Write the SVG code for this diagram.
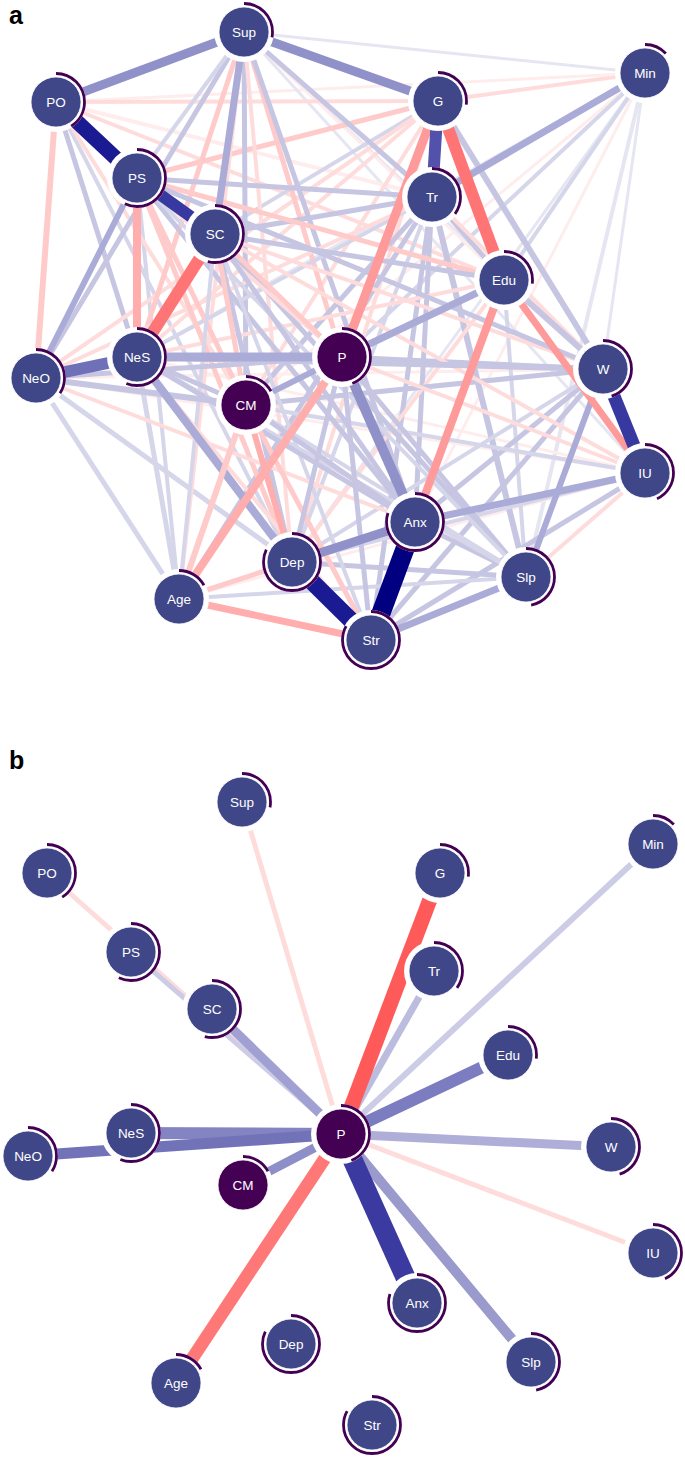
<svg xmlns="http://www.w3.org/2000/svg" width="685" height="1458" viewBox="0 0 685 1458">
<style>
.e line{stroke-linecap:butt}
.b1{stroke:#e6e6f3}.b2{stroke:#d6d6eb}.b3{stroke:#c6c6e3}.b4{stroke:#ababd7}.b5{stroke:#9191c9}.b6{stroke:#7070b9}.b7{stroke:#5252ac}.b8{stroke:#3838a1}.b9{stroke:#1a1a92}.b10{stroke:#000080}
.r1{stroke:#ffeded}.r2{stroke:#ffdcdc}.r3{stroke:#ffcaca}.r4{stroke:#ffadad}.r5{stroke:#ff9a9a}.r6{stroke:#ff7474}.r7{stroke:#ff5a5a}
.halo{fill:#fff}
.nf{fill:#404788;stroke:#fff;stroke-opacity:.75;stroke-width:1}
.np{fill:#440154;stroke:#fff;stroke-opacity:.75;stroke-width:1}
.arc{fill:none;stroke:#440154;stroke-width:2.8}
.lbl{font-family:"Liberation Sans",Arial,sans-serif;font-size:13.5px;fill:#fff;text-anchor:middle}
.pl{font-family:"Liberation Sans",Arial,sans-serif;font-size:25px;font-weight:bold;fill:#000}
.fSup{stroke-dasharray:50.1 300}.fPO{stroke-dasharray:73.4 300}.fPS{stroke-dasharray:102 300}.fSC{stroke-dasharray:96.7 300}
.fG{stroke-dasharray:48.3 300}.fMin{stroke-dasharray:23.3 300}.fTr{stroke-dasharray:62.7 300}.fEdu{stroke-dasharray:48.3 300}
.fNeO{stroke-dasharray:60.9 300}.fNeS{stroke-dasharray:100.3 300}.fP{stroke-dasharray:78.8 300}.fCM{stroke-dasharray:30.4 300}
.fW{stroke-dasharray:80.6 300}.fIU{stroke-dasharray:77 300}.fAnx{stroke-dasharray:143.3 300}.fDep{stroke-dasharray:146.8 300}
.fSlp{stroke-dasharray:84.2 300}.fAge{stroke-dasharray:30.4 300}.fStr{stroke-dasharray:148.6 300}
</style>
<rect width="685" height="1458" fill="#fff"/>
<text class="pl" x="9" y="24">a</text>
<text class="pl" x="9" y="769">b</text>

<g id="edges-a" class="e">
<line class="b1" stroke-width="3" x1="244" y1="32" x2="645" y2="73"/>
<line class="r1" stroke-width="3" x1="36" y1="378" x2="603" y2="369"/>
<line class="r1" stroke-width="3" x1="36" y1="378" x2="645" y2="473"/>
<line class="b1" stroke-width="3" x1="645" y1="73" x2="137" y2="357"/>
<line class="r1" stroke-width="3" x1="645" y1="73" x2="246" y2="405"/>
<line class="b1" stroke-width="4" x1="645" y1="73" x2="526" y2="577"/>
<line class="b1" stroke-width="3" x1="645" y1="73" x2="603" y2="369"/>
<line class="b1" stroke-width="3" x1="645" y1="73" x2="292" y2="562"/>
<line class="b2" stroke-width="4" x1="645" y1="73" x2="342" y2="357"/>
<line class="r1" stroke-width="3" x1="645" y1="73" x2="415" y2="522"/>
<line class="r2" stroke-width="4" x1="645" y1="73" x2="438" y2="101"/>
<line class="r1" stroke-width="3" x1="645" y1="73" x2="56" y2="102"/>
<line class="b2" stroke-width="4" x1="645" y1="73" x2="504" y2="280"/>
<line class="b1" stroke-width="3" x1="244" y1="32" x2="603" y2="369"/>
<line class="b1" stroke-width="3" x1="244" y1="32" x2="645" y2="473"/>
<line class="r1" stroke-width="3" x1="244" y1="32" x2="504" y2="280"/>
<line class="r1" stroke-width="3" x1="645" y1="473" x2="179" y2="599"/>
<line class="r1" stroke-width="3" x1="645" y1="473" x2="137" y2="357"/>
<line class="r2" stroke-width="4" x1="526" y1="577" x2="645" y2="473"/>
<line class="b2" stroke-width="5" x1="36" y1="378" x2="179" y2="599"/>
<line class="b2" stroke-width="5" x1="36" y1="378" x2="292" y2="562"/>
<line class="b2" stroke-width="5" x1="137" y1="357" x2="179" y2="599"/>
<line class="b2" stroke-width="4" x1="137" y1="178" x2="179" y2="599"/>
<line class="b3" stroke-width="5" x1="56" y1="102" x2="137" y2="357"/>
<line class="b2" stroke-width="4" x1="56" y1="102" x2="292" y2="562"/>
<line class="r2" stroke-width="4" x1="56" y1="102" x2="246" y2="405"/>
<line class="r1" stroke-width="4" x1="56" y1="102" x2="342" y2="357"/>
<line class="r1" stroke-width="4" x1="56" y1="102" x2="432" y2="197"/>
<line class="r2" stroke-width="4" x1="56" y1="102" x2="504" y2="280"/>
<line class="r2" stroke-width="4" x1="438" y1="101" x2="56" y2="102"/>
<line class="r3" stroke-width="5" x1="438" y1="101" x2="137" y2="178"/>
<line class="b2" stroke-width="4" x1="438" y1="101" x2="215" y2="234"/>
<line class="r2" stroke-width="4" x1="438" y1="101" x2="137" y2="357"/>
<line class="r2" stroke-width="4" x1="438" y1="101" x2="246" y2="405"/>
<line class="r2" stroke-width="4" x1="438" y1="101" x2="36" y2="378"/>
<line class="r2" stroke-width="4" x1="438" y1="101" x2="292" y2="562"/>
<line class="r3" stroke-width="5" x1="244" y1="32" x2="137" y2="357"/>
<line class="b3" stroke-width="5" x1="244" y1="32" x2="246" y2="405"/>
<line class="r2" stroke-width="4" x1="244" y1="32" x2="292" y2="562"/>
<line class="r3" stroke-width="5" x1="244" y1="32" x2="342" y2="357"/>
<line class="b3" stroke-width="5" x1="244" y1="32" x2="432" y2="197"/>
<line class="b3" stroke-width="5" x1="244" y1="32" x2="415" y2="522"/>
<line class="b3" stroke-width="5" x1="244" y1="32" x2="36" y2="378"/>
<line class="r2" stroke-width="4" x1="244" y1="32" x2="179" y2="599"/>
<line class="b2" stroke-width="4" x1="244" y1="32" x2="137" y2="178"/>
<line class="b3" stroke-width="5" x1="432" y1="197" x2="137" y2="178"/>
<line class="b3" stroke-width="5" x1="432" y1="197" x2="215" y2="234"/>
<line class="b2" stroke-width="4" x1="432" y1="197" x2="137" y2="357"/>
<line class="b3" stroke-width="5" x1="432" y1="197" x2="246" y2="405"/>
<line class="b3" stroke-width="5" x1="432" y1="197" x2="415" y2="522"/>
<line class="b3" stroke-width="6" x1="432" y1="197" x2="526" y2="577"/>
<line class="b3" stroke-width="5" x1="432" y1="197" x2="371" y2="640"/>
<line class="b2" stroke-width="4" x1="432" y1="197" x2="292" y2="562"/>
<line class="b3" stroke-width="5" x1="432" y1="197" x2="179" y2="599"/>
<line class="b3" stroke-width="5" x1="432" y1="197" x2="504" y2="280"/>
<line class="r2" stroke-width="4" x1="432" y1="197" x2="603" y2="369"/>
<line class="r2" stroke-width="4" x1="432" y1="197" x2="36" y2="378"/>
<line class="r3" stroke-width="5" x1="504" y1="280" x2="137" y2="178"/>
<line class="b3" stroke-width="5" x1="504" y1="280" x2="215" y2="234"/>
<line class="b3" stroke-width="6" x1="504" y1="280" x2="603" y2="369"/>
<line class="b2" stroke-width="4" x1="504" y1="280" x2="526" y2="577"/>
<line class="r2" stroke-width="4" x1="504" y1="280" x2="292" y2="562"/>
<line class="r2" stroke-width="4" x1="504" y1="280" x2="246" y2="405"/>
<line class="r2" stroke-width="4" x1="504" y1="280" x2="137" y2="357"/>
<line class="b3" stroke-width="5" x1="603" y1="369" x2="246" y2="405"/>
<line class="b3" stroke-width="5" x1="603" y1="369" x2="342" y2="357"/>
<line class="b3" stroke-width="5" x1="603" y1="369" x2="415" y2="522"/>
<line class="b2" stroke-width="4" x1="603" y1="369" x2="292" y2="562"/>
<line class="b3" stroke-width="5" x1="603" y1="369" x2="371" y2="640"/>
<line class="r2" stroke-width="4" x1="603" y1="369" x2="215" y2="234"/>
<line class="b3" stroke-width="5" x1="603" y1="369" x2="137" y2="178"/>
<line class="b2" stroke-width="4" x1="645" y1="473" x2="246" y2="405"/>
<line class="r2" stroke-width="4" x1="645" y1="473" x2="342" y2="357"/>
<line class="b3" stroke-width="5" x1="645" y1="473" x2="371" y2="640"/>
<line class="b2" stroke-width="4" x1="645" y1="473" x2="292" y2="562"/>
<line class="r2" stroke-width="4" x1="645" y1="473" x2="215" y2="234"/>
<line class="b3" stroke-width="5" x1="526" y1="577" x2="415" y2="522"/>
<line class="b3" stroke-width="5" x1="526" y1="577" x2="342" y2="357"/>
<line class="b3" stroke-width="5" x1="526" y1="577" x2="215" y2="234"/>
<line class="b2" stroke-width="4" x1="526" y1="577" x2="179" y2="599"/>
<line class="b3" stroke-width="5" x1="526" y1="577" x2="292" y2="562"/>
<line class="b2" stroke-width="4" x1="526" y1="577" x2="137" y2="357"/>
<line class="b2" stroke-width="4" x1="526" y1="577" x2="246" y2="405"/>
<line class="r3" stroke-width="5" x1="137" y1="178" x2="246" y2="405"/>
<line class="r3" stroke-width="5" x1="137" y1="178" x2="292" y2="562"/>
<line class="r2" stroke-width="4" x1="137" y1="178" x2="342" y2="357"/>
<line class="b3" stroke-width="5" x1="137" y1="178" x2="415" y2="522"/>
<line class="b2" stroke-width="4" x1="137" y1="178" x2="526" y2="577"/>
<line class="b3" stroke-width="5" x1="215" y1="234" x2="292" y2="562"/>
<line class="b2" stroke-width="4" x1="215" y1="234" x2="179" y2="599"/>
<line class="r3" stroke-width="5" x1="215" y1="234" x2="246" y2="405"/>
<line class="b3" stroke-width="5" x1="215" y1="234" x2="415" y2="522"/>
<line class="r3" stroke-width="5" x1="215" y1="234" x2="342" y2="357"/>
<line class="b2" stroke-width="4" x1="215" y1="234" x2="371" y2="640"/>
<line class="b3" stroke-width="5" x1="137" y1="357" x2="246" y2="405"/>
<line class="b3" stroke-width="5" x1="137" y1="357" x2="415" y2="522"/>
<line class="r2" stroke-width="4" x1="137" y1="357" x2="371" y2="640"/>
<line class="b3" stroke-width="5" x1="36" y1="378" x2="342" y2="357"/>
<line class="r2" stroke-width="4" x1="36" y1="378" x2="415" y2="522"/>
<line class="b3" stroke-width="6" x1="36" y1="378" x2="246" y2="405"/>
<line class="r4" stroke-width="6" x1="246" y1="405" x2="292" y2="562"/>
<line class="r3" stroke-width="5" x1="246" y1="405" x2="371" y2="640"/>
<line class="b3" stroke-width="5" x1="246" y1="405" x2="415" y2="522"/>
<line class="b4" stroke-width="6" x1="246" y1="405" x2="342" y2="357"/>
<line class="b3" stroke-width="5" x1="342" y1="357" x2="292" y2="562"/>
<line class="b3" stroke-width="5" x1="342" y1="357" x2="371" y2="640"/>
<line class="r2" stroke-width="4" x1="415" y1="522" x2="179" y2="599"/>
<line class="r3" stroke-width="5" x1="179" y1="599" x2="292" y2="562"/>
<line class="b3" stroke-width="6" x1="137" y1="357" x2="603" y2="369"/>
<line class="b3" stroke-width="6" x1="438" y1="101" x2="603" y2="369"/>
<line class="b4" stroke-width="7" x1="342" y1="357" x2="504" y2="280"/>
<line class="b4" stroke-width="7" x1="645" y1="73" x2="432" y2="197"/>
<line class="b4" stroke-width="7" x1="371" y1="640" x2="526" y2="577"/>
<line class="b4" stroke-width="6" x1="603" y1="369" x2="526" y2="577"/>
<line class="b4" stroke-width="6" x1="137" y1="178" x2="36" y2="378"/>
<line class="b4" stroke-width="7" x1="415" y1="522" x2="645" y2="473"/>
<line class="b4" stroke-width="7" x1="244" y1="32" x2="215" y2="234"/>
<line class="b4" stroke-width="8" x1="137" y1="357" x2="292" y2="562"/>
<line class="r3" stroke-width="6" x1="246" y1="405" x2="179" y2="599"/>
<line class="r3" stroke-width="6" x1="56" y1="102" x2="36" y2="378"/>
<line class="r4" stroke-width="7" x1="179" y1="599" x2="371" y2="640"/>
<line class="r4" stroke-width="8" x1="137" y1="178" x2="137" y2="357"/>
<line class="r4" stroke-width="8" x1="342" y1="357" x2="179" y2="599"/>
<line class="r5" stroke-width="7" x1="504" y1="280" x2="645" y2="473"/>
<line class="r5" stroke-width="8" x1="504" y1="280" x2="415" y2="522"/>
<line class="r5" stroke-width="9" x1="438" y1="101" x2="342" y2="357"/>
<line class="b5" stroke-width="9" x1="415" y1="522" x2="292" y2="562"/>
<line class="b5" stroke-width="10" x1="342" y1="357" x2="415" y2="522"/>
<line class="b5" stroke-width="9" x1="244" y1="32" x2="56" y2="102"/>
<line class="b5" stroke-width="9" x1="244" y1="32" x2="438" y2="101"/>
<line class="b4" stroke-width="9" x1="137" y1="357" x2="342" y2="357"/>
<line class="r6" stroke-width="12" x1="438" y1="101" x2="504" y2="280"/>
<line class="r6" stroke-width="12" x1="215" y1="234" x2="137" y2="357"/>
<line class="b6" stroke-width="12" x1="36" y1="378" x2="137" y2="357"/>
<line class="b7" stroke-width="12" x1="438" y1="101" x2="432" y2="197"/>
<line class="b8" stroke-width="12" x1="137" y1="178" x2="215" y2="234"/>
<line class="b8" stroke-width="13" x1="603" y1="369" x2="645" y2="473"/>
<line class="b9" stroke-width="15" x1="56" y1="102" x2="137" y2="178"/>
<line class="b9" stroke-width="17" x1="292" y1="562" x2="371" y2="640"/>
<line class="b10" stroke-width="19" x1="415" y1="522" x2="371" y2="640"/>
</g>

<g id="nodes-a">
<g id="a-Sup" transform="translate(244,32)"><circle class="halo" r="30"/><circle class="nf" r="25"/><circle class="arc fSup" r="28.5" transform="rotate(-90)"/><text class="lbl" y="4.8">Sup</text></g>
<g id="a-PO" transform="translate(56,102)"><circle class="halo" r="30"/><circle class="nf" r="25"/><circle class="arc fPO" r="28.5" transform="rotate(-90)"/><text class="lbl" y="4.8">PO</text></g>
<g id="a-PS" transform="translate(137,178)"><circle class="halo" r="30"/><circle class="nf" r="25"/><circle class="arc fPS" r="28.5" transform="rotate(-90)"/><text class="lbl" y="4.8">PS</text></g>
<g id="a-SC" transform="translate(215,234)"><circle class="halo" r="30"/><circle class="nf" r="25"/><circle class="arc fSC" r="28.5" transform="rotate(-90)"/><text class="lbl" y="4.8">SC</text></g>
<g id="a-G" transform="translate(438,101)"><circle class="halo" r="30"/><circle class="nf" r="25"/><circle class="arc fG" r="28.5" transform="rotate(-90)"/><text class="lbl" y="4.8">G</text></g>
<g id="a-Min" transform="translate(645,73)"><circle class="halo" r="30"/><circle class="nf" r="25"/><circle class="arc fMin" r="28.5" transform="rotate(-90)"/><text class="lbl" y="4.8">Min</text></g>
<g id="a-Tr" transform="translate(432,197)"><circle class="halo" r="30"/><circle class="nf" r="25"/><circle class="arc fTr" r="28.5" transform="rotate(-90)"/><text class="lbl" y="4.8">Tr</text></g>
<g id="a-Edu" transform="translate(504,280)"><circle class="halo" r="30"/><circle class="nf" r="25"/><circle class="arc fEdu" r="28.5" transform="rotate(-90)"/><text class="lbl" y="4.8">Edu</text></g>
<g id="a-NeO" transform="translate(36,378)"><circle class="halo" r="30"/><circle class="nf" r="25"/><circle class="arc fNeO" r="28.5" transform="rotate(-90)"/><text class="lbl" y="4.8">NeO</text></g>
<g id="a-NeS" transform="translate(137,357)"><circle class="halo" r="30"/><circle class="nf" r="25"/><circle class="arc fNeS" r="28.5" transform="rotate(-90)"/><text class="lbl" y="4.8">NeS</text></g>
<g id="a-P" transform="translate(342,357)"><circle class="halo" r="30"/><circle class="np" r="25"/><circle class="arc fP" r="28.5" transform="rotate(-90)"/><text class="lbl" y="4.8">P</text></g>
<g id="a-CM" transform="translate(246,405)"><circle class="halo" r="30"/><circle class="np" r="25"/><circle class="arc fCM" r="28.5" transform="rotate(-90)"/><text class="lbl" y="4.8">CM</text></g>
<g id="a-W" transform="translate(603,369)"><circle class="halo" r="30"/><circle class="nf" r="25"/><circle class="arc fW" r="28.5" transform="rotate(-90)"/><text class="lbl" y="4.8">W</text></g>
<g id="a-IU" transform="translate(645,473)"><circle class="halo" r="30"/><circle class="nf" r="25"/><circle class="arc fIU" r="28.5" transform="rotate(-90)"/><text class="lbl" y="4.8">IU</text></g>
<g id="a-Anx" transform="translate(415,522)"><circle class="halo" r="30"/><circle class="nf" r="25"/><circle class="arc fAnx" r="28.5" transform="rotate(-90)"/><text class="lbl" y="4.8">Anx</text></g>
<g id="a-Dep" transform="translate(292,562)"><circle class="halo" r="30"/><circle class="nf" r="25"/><circle class="arc fDep" r="28.5" transform="rotate(-90)"/><text class="lbl" y="4.8">Dep</text></g>
<g id="a-Slp" transform="translate(526,577)"><circle class="halo" r="30"/><circle class="nf" r="25"/><circle class="arc fSlp" r="28.5" transform="rotate(-90)"/><text class="lbl" y="4.8">Slp</text></g>
<g id="a-Age" transform="translate(179,599)"><circle class="halo" r="30"/><circle class="nf" r="25"/><circle class="arc fAge" r="28.5" transform="rotate(-90)"/><text class="lbl" y="4.8">Age</text></g>
<g id="a-Str" transform="translate(371,640)"><circle class="halo" r="30"/><circle class="nf" r="25"/><circle class="arc fStr" r="28.5" transform="rotate(-90)"/><text class="lbl" y="4.8">Str</text></g>
</g>

<g id="edges-b" class="e">
<line class="r2" stroke-width="5" x1="341" y1="1134" x2="242" y2="802"/>
<line class="r2" stroke-width="5" x1="341" y1="1134" x2="47" y2="873"/>
<line stroke="#ccccE6" stroke-width="5" x1="341" y1="1134" x2="131" y2="952"/>
<line class="r2" stroke-width="5" x1="341" y1="1134" x2="653" y2="1253"/>
<line stroke="#ccccE6" stroke-width="6" x1="341" y1="1134" x2="653" y2="844"/>
<line stroke="#bcbcdf" stroke-width="7" x1="341" y1="1134" x2="434" y2="971"/>
<line stroke="#aeaed8" stroke-width="9" x1="341" y1="1134" x2="611" y2="1147"/>
<line stroke="#a0a0d2" stroke-width="9" x1="341" y1="1134" x2="212" y2="1009"/>
<line stroke="#9a9acc" stroke-width="10" x1="341" y1="1134" x2="531" y2="1362"/>
<line stroke="#8e8ec8" stroke-width="9" x1="341" y1="1134" x2="243" y2="1185"/>
<line stroke="#8484c2" stroke-width="12" x1="341" y1="1134" x2="131" y2="1133"/>
<line stroke="#7272b9" stroke-width="11" x1="341" y1="1134" x2="28" y2="1156"/>
<line stroke="#7c7cc0" stroke-width="12" x1="341" y1="1134" x2="508" y2="1055"/>
<line stroke="#ff7878" stroke-width="13" x1="341" y1="1134" x2="176" y2="1383"/>
<line class="r7" stroke-width="15" x1="341" y1="1134" x2="440" y2="873"/>
<line stroke="#3a3aa0" stroke-width="20" x1="341" y1="1134" x2="417" y2="1303"/>
</g>

<g id="nodes-b">
<g id="b-Sup" transform="translate(242,802)"><circle class="halo" r="30"/><circle class="nf" r="25"/><circle class="arc fSup" r="28.5" transform="rotate(-90)"/><text class="lbl" y="4.8">Sup</text></g>
<g id="b-PO" transform="translate(47,873)"><circle class="halo" r="30"/><circle class="nf" r="25"/><circle class="arc fPO" r="28.5" transform="rotate(-90)"/><text class="lbl" y="4.8">PO</text></g>
<g id="b-PS" transform="translate(131,952)"><circle class="halo" r="30"/><circle class="nf" r="25"/><circle class="arc fPS" r="28.5" transform="rotate(-90)"/><text class="lbl" y="4.8">PS</text></g>
<g id="b-SC" transform="translate(212,1009)"><circle class="halo" r="30"/><circle class="nf" r="25"/><circle class="arc fSC" r="28.5" transform="rotate(-90)"/><text class="lbl" y="4.8">SC</text></g>
<g id="b-G" transform="translate(440,873)"><circle class="halo" r="30"/><circle class="nf" r="25"/><circle class="arc fG" r="28.5" transform="rotate(-90)"/><text class="lbl" y="4.8">G</text></g>
<g id="b-Min" transform="translate(653,844)"><circle class="halo" r="30"/><circle class="nf" r="25"/><circle class="arc fMin" r="28.5" transform="rotate(-90)"/><text class="lbl" y="4.8">Min</text></g>
<g id="b-Tr" transform="translate(434,971)"><circle class="halo" r="30"/><circle class="nf" r="25"/><circle class="arc fTr" r="28.5" transform="rotate(-90)"/><text class="lbl" y="4.8">Tr</text></g>
<g id="b-Edu" transform="translate(508,1055)"><circle class="halo" r="30"/><circle class="nf" r="25"/><circle class="arc fEdu" r="28.5" transform="rotate(-90)"/><text class="lbl" y="4.8">Edu</text></g>
<g id="b-NeO" transform="translate(28,1156)"><circle class="halo" r="30"/><circle class="nf" r="25"/><circle class="arc fNeO" r="28.5" transform="rotate(-90)"/><text class="lbl" y="4.8">NeO</text></g>
<g id="b-NeS" transform="translate(131,1133)"><circle class="halo" r="30"/><circle class="nf" r="25"/><circle class="arc fNeS" r="28.5" transform="rotate(-90)"/><text class="lbl" y="4.8">NeS</text></g>
<g id="b-P" transform="translate(341,1134)"><circle class="halo" r="30"/><circle class="np" r="25"/><circle class="arc fP" r="28.5" transform="rotate(-90)"/><text class="lbl" y="4.8">P</text></g>
<g id="b-CM" transform="translate(243,1185)"><circle class="halo" r="30"/><circle class="np" r="25"/><circle class="arc fCM" r="28.5" transform="rotate(-90)"/><text class="lbl" y="4.8">CM</text></g>
<g id="b-W" transform="translate(611,1147)"><circle class="halo" r="30"/><circle class="nf" r="25"/><circle class="arc fW" r="28.5" transform="rotate(-90)"/><text class="lbl" y="4.8">W</text></g>
<g id="b-IU" transform="translate(653,1253)"><circle class="halo" r="30"/><circle class="nf" r="25"/><circle class="arc fIU" r="28.5" transform="rotate(-90)"/><text class="lbl" y="4.8">IU</text></g>
<g id="b-Anx" transform="translate(417,1303)"><circle class="halo" r="30"/><circle class="nf" r="25"/><circle class="arc fAnx" r="28.5" transform="rotate(-90)"/><text class="lbl" y="4.8">Anx</text></g>
<g id="b-Dep" transform="translate(291,1344)"><circle class="halo" r="30"/><circle class="nf" r="25"/><circle class="arc fDep" r="28.5" transform="rotate(-90)"/><text class="lbl" y="4.8">Dep</text></g>
<g id="b-Slp" transform="translate(531,1362)"><circle class="halo" r="30"/><circle class="nf" r="25"/><circle class="arc fSlp" r="28.5" transform="rotate(-90)"/><text class="lbl" y="4.8">Slp</text></g>
<g id="b-Age" transform="translate(176,1383)"><circle class="halo" r="30"/><circle class="nf" r="25"/><circle class="arc fAge" r="28.5" transform="rotate(-90)"/><text class="lbl" y="4.8">Age</text></g>
<g id="b-Str" transform="translate(372,1425)"><circle class="halo" r="30"/><circle class="nf" r="25"/><circle class="arc fStr" r="28.5" transform="rotate(-90)"/><text class="lbl" y="4.8">Str</text></g>
</g>
</svg>
